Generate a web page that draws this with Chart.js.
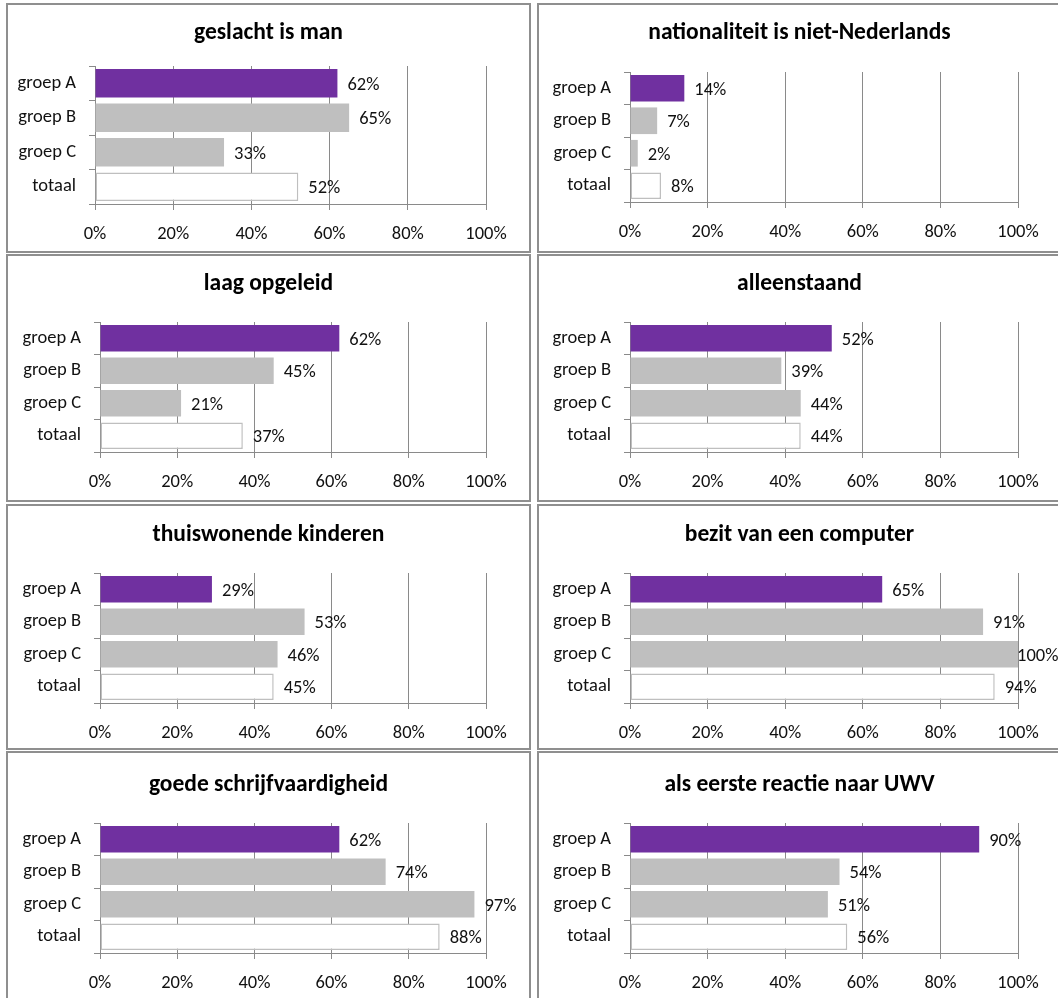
<!DOCTYPE html>
<html>
<head>
<meta charset="utf-8">
<script src="https://cdn.jsdelivr.net/npm/chart.js@4/dist/chart.umd.min.js"></script>
<style>
  html, body { margin: 0; padding: 0; background: #fff; overflow: hidden; }
  body { width: 1058px; height: 998px; position: relative; }
  .panel { position: absolute; box-sizing: border-box; border: 2px solid #8f8f8f; background: #fff; }
  canvas { position: absolute; }
</style>
</head>
<body>
<script>
// ---- data ----
const categories = ['groep A', 'groep B', 'groep C', 'totaal'];
const tickLabels = ['0%', '20%', '40%', '60%', '80%', '100%'];
const titles = [
  'geslacht is man',
  'nationaliteit is niet-Nederlands',
  'laag opgeleid',
  'alleenstaand',
  'thuiswonende kinderen',
  'bezit van een computer',
  'goede schrijfvaardigheid',
  'als eerste reactie naar UWV'
];
const geslachtIsMan = [62, 65, 33, 52];
const nietNederlands = [14, 7, 2, 8];
const laagOpgeleid = [62, 45, 21, 37];
const alleenstaand = [52, 39, 44, 44];
const thuiswonendeKinderen = [29, 53, 46, 45];
const bezitComputer = [65, 91, 100, 94];
const goedeSchrijfvaardigheid = [62, 74, 97, 88];
const eersteReactieUWV = [90, 54, 51, 56];
const allSeries = [geslachtIsMan, nietNederlands, laagOpgeleid, alleenstaand,
  thuiswonendeKinderen, bezitComputer, goedeSchrijfvaardigheid, eersteReactieUWV];

// ---- layout (page coordinates) ----
const panels = [
  { left: 6,   top: 3,   w: 525, h: 250, plot: [95, 66, 486, 204],   titleY: 33 },
  { left: 537, top: 3,   w: 525, h: 250, plot: [630, 72, 1018, 202], titleY: 33 },
  { left: 6,   top: 254, w: 525, h: 248, plot: [100, 322, 486, 452], titleY: 284 },
  { left: 537, top: 254, w: 525, h: 248, plot: [630, 322, 1018, 452], titleY: 284 },
  { left: 6,   top: 504, w: 525, h: 246, plot: [100, 573, 486, 703], titleY: 535 },
  { left: 537, top: 504, w: 525, h: 246, plot: [630, 573, 1018, 703], titleY: 535 },
  { left: 6,   top: 751, w: 525, h: 250, plot: [100, 823, 486, 953], titleY: 785 },
  { left: 537, top: 751, w: 525, h: 250, plot: [630, 823, 1018, 953], titleY: 785 }
];

const FONT = "'Carlito', 'Open Sans', sans-serif";
const LABEL_SIZE = 18.5;
const TITLE_SIZE = 23.5;
const GRID = '#8a8a8a';
const fills = ['#7030A0', '#BFBFBF', '#BFBFBF', '#FFFFFF'];
const borders = ['#7030A0', '#BFBFBF', '#BFBFBF', '#BFBFBF'];
const borderWidths = [0, 0, 0, 1.5];

const valueLabels = {
  id: 'valueLabels',
  afterDatasetsDraw(chart) {
    const ctx = chart.ctx;
    const meta = chart.getDatasetMeta(0);
    const data = chart.data.datasets[0].data;
    ctx.save();
    ctx.font = LABEL_SIZE + 'px ' + FONT;
    ctx.fillStyle = '#111';
    ctx.textAlign = 'left';
    ctx.textBaseline = 'middle';
    meta.data.forEach((bar, i) => {
      const x = Math.min(bar.x + 10, chart.chartArea.right - 1);
      ctx.fillText(data[i] + '%', x, bar.y + 2);
    });
    ctx.restore();
  }
};

panels.forEach((p, k) => {
  const div = document.createElement('div');
  div.className = 'panel';
  div.style.left = p.left + 'px';
  div.style.top = p.top + 'px';
  div.style.width = p.w + 'px';
  div.style.height = p.h + 'px';
  document.body.appendChild(div);

  const ox = p.left + 2, oy = p.top + 2;
  const cw = p.w - 4, ch = p.h - 4;
  const canvas = document.createElement('canvas');
  canvas.width = cw; canvas.height = ch;
  canvas.style.left = ox + 'px';
  canvas.style.top = oy + 'px';
  canvas.style.width = cw + 'px';
  canvas.style.height = ch + 'px';
  document.body.appendChild(canvas);

  const pl = p.plot[0] - ox, pt = p.plot[1] - oy, pr = p.plot[2] - ox, pb = p.plot[3] - oy;
  const ty = p.titleY - oy;
  const tLine = TITLE_SIZE * 1.2;
  const tPadTop = ty - tLine / 2;
  const tPadBottom = pt - ty - tLine / 2;

  new Chart(canvas, {
    type: 'bar',
    data: {
      labels: categories,
      datasets: [{
        data: allSeries[k],
        backgroundColor: fills,
        borderColor: borders,
        borderWidth: borderWidths,
        borderSkipped: false,
        barPercentage: 0.82,
        categoryPercentage: 1.0
      }]
    },
    options: {
      indexAxis: 'y',
      responsive: false,
      animation: false,
      devicePixelRatio: 1,
      layout: { padding: 0 },
      plugins: {
        legend: { display: false },
        tooltip: { enabled: false },
        title: {
          display: true,
          text: titles[k],
          color: '#000',
          font: { family: FONT, size: TITLE_SIZE, weight: 'bold', lineHeight: 1.2 },
          padding: { top: tPadTop, bottom: tPadBottom }
        }
      },
      scales: {
        x: {
          type: 'linear',
          min: 0, max: 100,
          ticks: {
            stepSize: 20,
            color: '#111',
            font: { family: FONT, size: LABEL_SIZE },
            padding: 13,
            maxRotation: 0,
            autoSkip: false,
            callback: (v, i) => tickLabels[i]
          },
          grid: { color: GRID, lineWidth: 1, tickLength: 6, drawTicks: true, drawOnChartArea: true },
          border: { display: true, color: GRID, width: 1 },
          afterFit: (s) => { s.height = ch - pb; }
        },
        y: {
          type: 'category',
          offset: true,
          ticks: {
            color: '#111',
            font: { family: FONT, size: LABEL_SIZE },
            padding: 13
          },
          grid: { offset: true, color: GRID, lineWidth: 1, tickLength: 6, drawTicks: true, drawOnChartArea: false },
          border: { display: true, color: GRID, width: 1 },
          afterFit: (s) => { s.width = pl; }
        },
        yRight: {
          type: 'category',
          position: 'right',
          display: true,
          ticks: { display: false },
          grid: { display: false, drawTicks: false },
          border: { display: false },
          afterFit: (s) => { s.width = cw - pr; }
        }
      }
    },
    plugins: [valueLabels]
  });
});
</script>
</body>
</html>
